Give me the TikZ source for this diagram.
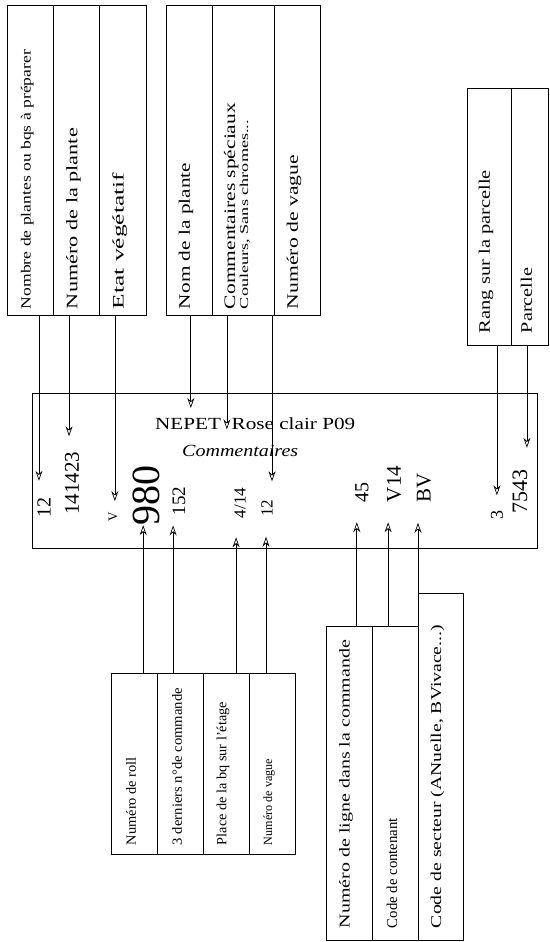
\documentclass[tikz,border=0pt]{standalone}
\usepackage{fontspec}
\setmainfont{Liberation Serif}
\usepackage{graphicx}
\usetikzlibrary{arrows.meta,
	calc,
	positioning}
\newcommand{\fsize}[1]{\fontsize{#1}{#1}\selectfont}
\newcommand{\vlabel}[2]{\rotatebox{90}{\resizebox{#1}{\height}{#2}}\kern6pt}

\begin{document}
\begin{tikzpicture}[x=1pt, y=-1pt,
                cell/.style={draw, line width=0.6pt, anchor=south west, inner xsep=0pt,
                             outer sep=0pt, text depth=0pt, minimum width=46pt},
                toprow/.style={cell, inner ysep=6pt, text height=298pt, font=\fsize{16}},
                rightrow/.style={cell, inner ysep=12pt, text height=233pt, font=\fsize{16}},
                botrow/.style={cell, inner ysep=9pt, text height=163pt, font=\fsize{14}},
                brrow/.style={cell, inner ysep=12pt, text height=290pt, font=\fsize{15}},
                num/.style={rotate=90, inner sep=0pt, font=\fsize{20}},
                arr/.style={-{Stealth[open,length=10pt,width=7pt]}, line width=0.7pt}]
            \useasboundingbox (0,0) rectangle (549,942);
            \node[toprow, minimum width=46.3pt, font=\fsize{14}] (nbPlantes) at (7,315) {\vlabel{259pt}{Nombre de plantes ou bqs à préparer}};
            \node[toprow, minimum width=46.3pt] (numPlante) at (nbPlantes.south east) {\vlabel{181pt}{Numéro de la plante}};
            \node[toprow, minimum width=46.3pt] (etat) at (numPlante.south east) {\vlabel{136pt}{Etat végétatif}};
            \node[toprow] (nomPlante) at (166,315) {\vlabel{146pt}{Nom de la plante}};
            \node[toprow, minimum width=62pt] (comment) at (nomPlante.south east) {\rotatebox{90}{\fontsize{16}{13}\selectfont\begin{tabular}{@{}l@{}}\resizebox{206pt}{\height}{Commentaires spéciaux}\\ \resizebox{189pt}{\height}{\fsize{12}Couleurs, Sans chromes...}\end{tabular}}\kern10pt};
            \node[toprow] (vague) at (comment.south east) {\vlabel{154pt}{Numéro de vague}};
            \node[rightrow, minimum width=44pt] (rang) at (467,345) {\vlabel{163pt}{Rang sur la parcelle}};
            \node[rightrow, minimum width=37pt] (parcelle) at (rang.south east) {\vlabel{65pt}{Parcelle}};
            \node[botrow] (roll) at (111,854) {\vlabel{88pt}{Numéro de roll}};
            \node[botrow] (commande) at (roll.south east) {\vlabel{157pt}{3 derniers n°de commande}};
            \node[botrow] (place) at (commande.south east) {\vlabel{143pt}{Place de la bq sur l'étage}};
            \node[botrow, font=\fsize{12.5}] (vagueB) at (place.south east) {\vlabel{86pt}{Numéro de vague}};
            \node[brrow] (ligne) at (326,940) {\vlabel{288pt}{Numéro de ligne dans la commande}};
            \node[brrow] (contenant) at (ligne.south east) {\vlabel{110pt}{Code de contenant}};
            \node[brrow, text height=323pt, minimum width=45pt] (secteur) at (contenant.south east) {\vlabel{303pt}{Code de secteur (ANuelle, BVivace...)}};
            \node[draw, line width=0.6pt, minimum width=505pt, minimum height=155pt, anchor=north west,
                  inner sep=0pt, outer sep=0pt] (main) at (32,393) {};
            \node[anchor=base west, inner sep=0pt, font=\fsize{17}] (nom) at (155,429) {\resizebox{200pt}{\height}{NEPET~~Rose clair P09}};
            \node[anchor=base west, inner sep=0pt, font=\fsize{17}\itshape] (comm) at (182,456) {\resizebox{116pt}{\height}{Commentaires}};
            \node[num] (qte) at (44,507) {12};
            \node[num, font=\fsize{21}] (code) at (72,483) {141423};
            \node[num, font=\fsize{13}] (etatV) at (113,517) {V};
            \node[num, font=\fsize{40}] (rollN) at (146,495) {980};
            \node[num, font=\fsize{19}] (cmdN) at (179,501) {152};
            \node[num, font=\fsize{17}] (placeN) at (240,503) {4/14};
            \node[num, font=\fsize{17}] (vagueN) at (267,508) {12};
            \node[num] (ligneN) at (362,492) {45};
            \node[num, font=\fsize{21}] (contN) at (394,484) {V14};
            \node[num, font=\fsize{21}] (sectN) at (424,488) {BV};
            \node[num, font=\fsize{18}] (rangN) at (497,515) {3};
            \node[num, font=\fsize{22}] (parcN) at (520,491) {7543};
            \draw[arr, shorten >=16pt] ($(nbPlantes.south west)!0.69!(nbPlantes.south east)$) coordinate (a1) -- (a1 |- qte.east);
            \draw[arr, shorten >=15pt] ($(numPlante.south west)!0.34!(numPlante.south east)$) coordinate (a2) -- (a2 |- code.east);
            \draw[arr, shorten >=11pt] ($(etat.south west)!0.33!(etat.south east)$) coordinate (a3) -- (a3 |- etatV.east);
            \draw[arr, shorten >=9pt] ($(nomPlante.south west)!0.54!(nomPlante.south east)$) coordinate (a4) -- (a4 |- nom.north);
            \draw[arr] ($(comment.south west)!0.24!(comment.south east)$) coordinate (a5) -- (a5 |- nom.south);
            \draw[arr, shorten >=18pt] ([xshift=-2pt]vague.south west) coordinate (a6) -- (a6 |- vagueN.east);
            \draw[arr, shorten >=15pt] ($(rang.south west)!0.68!(rang.south east)$) coordinate (a7) -- (a7 |- rangN.east);
            \draw[arr, shorten >=21pt] ($(parcelle.south west)!0.43!(parcelle.south east)$) coordinate (a8) -- (a8 |- parcN.east);
            \draw[arr] ($(roll.north west)!0.70!(roll.north east)$) coordinate (b1) -- (b1 |- rollN.west);
            \draw[arr, shorten >=10pt] ($(commande.north west)!0.35!(commande.north east)$) coordinate (b2) -- (b2 |- cmdN.west);
            \draw[arr, shorten >=19pt] ($(place.north west)!0.72!(place.north east)$) coordinate (b3) -- (b3 |- placeN.west);
            \draw[arr, shorten >=20pt] ($(vagueB.north west)!0.37!(vagueB.north east)$) coordinate (b4) -- (b4 |- vagueN.west);
            \draw[arr, shorten >=20pt] ($(ligne.north west)!0.67!(ligne.north east)$) coordinate (b5) -- (b5 |- ligneN.west);
            \draw[arr, shorten >=20pt] ($(contenant.north west)!0.35!(contenant.north east)$) coordinate (b6) -- (b6 |- contN.west);
            \draw[arr, shorten >=20pt] (secteur.north west) coordinate (b7) -- (b7 |- sectN.west);
        \end{tikzpicture}
\end{document}
